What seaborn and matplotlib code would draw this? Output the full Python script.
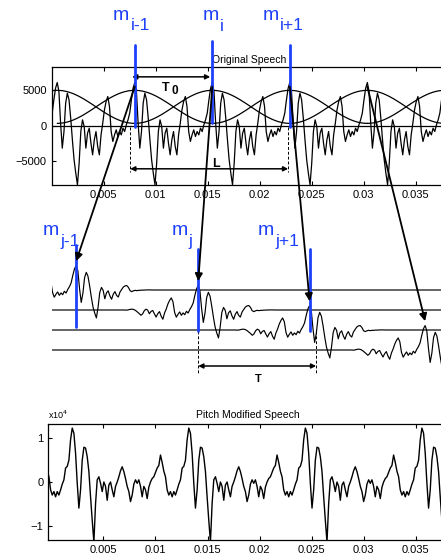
import numpy as np
import matplotlib
matplotlib.use('Agg')
import matplotlib.pyplot as plt
import seaborn as sns
from matplotlib.patches import ConnectionPatch

sns.set_style('ticks', {'axes.edgecolor': 'k', 'text.color': 'k',
                        'xtick.color': 'k', 'ytick.color': 'k'})
plt.rcParams['font.family'] = ['Liberation Sans', 'DejaVu Sans']

# ---- values ----
# one pitch period of the original speech, starting at a pitch mark
ORIG_PERIOD = [6100, 4830, 375, -3140, -800, 3190, 4600, 3660, 1080, -1970,
               -4780, -6660, -8300, -5250, -800, 845, -100, -3140, -1030, -330,
               -2440, -4080, -1970, -800, -2900, -4080, -1270, 375, 2250, 3420,
               4130, 2720, -800, -2200, -1270, -560, -1500, -800, -1270, -330,
               -800, 140, 845, 1780, 3660, 5300]
ORIG_FIRST_MARK = 0.00055
T0 = 0.00745
ORIG_DT = T0 / len(ORIG_PERIOD)

# one pitch period of the pitch modified speech (x1e4), starting at a peak
MOD_PERIOD = [1.24, 1.12, 0.66, -0.03, -0.60, -0.18, 0.50, 0.80, 0.78, 0.58,
              0.24, -0.34, -0.88, -1.38, -0.50, 0.05, 0.12, -0.03, -0.22, 0.00,
              -0.10, -0.42, -0.07, 0.00, -0.18, -0.34, -0.10, 0.00, 0.12, 0.26,
              0.35, 0.24, 0.08, -0.10, -0.22, -0.45, -0.30, -0.05, 0.05, -0.03,
              0.05, -0.10, -0.34, -0.10, -0.18, -0.38, -0.12, 0.00, 0.08, 0.12,
              0.22, 0.32, 0.38, 0.62, 0.45, 0.25, 0.12, -0.18, -0.30, -0.22,
              -0.34, -0.22, -0.30, -0.18, -0.05, 0.05, 0.32, 0.36, 0.50, 0.97]
MOD_FIRST_PEAK = 0.0020
T_NEW = 0.0112
MOD_DT = T_NEW / len(MOD_PERIOD)

# half of the analysis window (peak -> edge), one value per sample
HANN_HALF = [1.000, 0.999, 0.995, 0.990, 0.982, 0.971, 0.959, 0.944, 0.927, 0.909,
             0.888, 0.865, 0.841, 0.816, 0.788, 0.760, 0.730, 0.699, 0.667, 0.635,
             0.602, 0.568, 0.534, 0.500, 0.466, 0.432, 0.398, 0.365, 0.333, 0.301,
             0.270, 0.240, 0.212, 0.185, 0.159, 0.135, 0.112, 0.092, 0.073, 0.056,
             0.041, 0.029, 0.019, 0.011, 0.005, 0.001, 0.000]
WIN_LOW, WIN_HIGH = 350, 5000

# new pitch marks of the overlap-added segments and their drawing baselines
MID_MARKS = [0.00237, 0.0141, 0.0248, 0.0359]
MID_BASELINES = [0, -5000, -10000, -15000]

TOP_LABELS = ['i-1', 'i', 'i+1']
MID_LABELS = ['j-1', 'j', 'j+1']
XTICKS = [0.005, 0.01, 0.015, 0.02, 0.025, 0.03, 0.035]
XTICKLABELS = ['0.005', '0.01', '0.015', '0.02', '0.025', '0.03', '0.035']

BLUE = '#1d40fb'
W, H = 441, 556
PX_PER_S = 10407


def box(l, t, r, b):
    return [l / W, 1 - b / H, (r - l) / W, (b - t) / H]


def fpos(x, y):
    return x / W, 1 - y / H


fig = plt.figure(figsize=(W / 100, H / 100), dpi=100)
ax_top = fig.add_axes(box(51.5, 66.7, 51.5 + 0.038 * PX_PER_S, 185))
ax_mid = fig.add_axes(box(51.5, 240, 51.5 + 0.038 * PX_PER_S, 380))
ax_bot = fig.add_axes(box(48.3, 424, 48.3 + 0.0383 * PX_PER_S, 540))

# ---- original speech ----
n_per = len(ORIG_PERIOD)
n = np.arange(-4, 245)
top_t = ORIG_FIRST_MARK + n * ORIG_DT
top_v = np.array(ORIG_PERIOD)[n % n_per]
sns.lineplot(x=top_t, y=top_v, ax=ax_top, color='k', lw=0.9,
             estimator=None, sort=False)
ax_top.axhline(0, color='k', lw=0.9)

orig_marks = ORIG_FIRST_MARK + np.arange(6) * T0
win = np.array(HANN_HALF)
full_win = np.concatenate([win[::-1], win[1:]])
k_idx = np.arange(-(len(win) - 1), len(win))
for m in orig_marks:
    ax_top.plot(m + k_idx * ORIG_DT, WIN_LOW + (WIN_HIGH - WIN_LOW) * full_win,
                color='k', lw=0.9)

ax_top.set_xlim(0, 0.038)
ax_top.set_ylim(-8330, 8330)
ax_top.set_xticks(XTICKS, XTICKLABELS)
ax_top.set_yticks([-5000, 0, 5000], ['\u22125000', '0', '5000'])
ax_top.set_title('Original Speech', fontsize=7.5, pad=2.5)

# blue pitch marks on the original
for m, top, bot in zip(orig_marks[1:4], [11400, 11970, 11400], [-140, 420, -140]):
    ax_top.plot([m, m], [bot, top], color=BLUE, lw=2, clip_on=False, zorder=5)

# T0 and L spans
ax_top.annotate('', xy=(0.00775, 6900), xytext=(0.01525, 6900),
                arrowprops=dict(arrowstyle='<|-|>', color='k', lw=1.1,
                                mutation_scale=7, shrinkA=0, shrinkB=0),
                annotation_clip=False)
for x in (0.00756, 0.02274):
    ax_top.plot([x, x], [-140, -6480], color='k', lw=0.7, ls=(0, (3, 2)),
                clip_on=False)
ax_top.annotate('', xy=(0.00756, -6050), xytext=(0.02274, -6050),
                arrowprops=dict(arrowstyle='<|-|>', color='k', lw=1.1,
                                mutation_scale=7, shrinkA=0, shrinkB=0),
                annotation_clip=False)
fig.text(*fpos(162, 91), 'T', fontsize=9, fontweight='bold', va='baseline')
fig.text(*fpos(171, 94), '0', fontsize=8.5, fontweight='bold', va='baseline')
fig.text(*fpos(212, 167), 'L', fontsize=9, fontweight='bold', va='baseline')

# ---- windowed segments placed at the new pitch marks ----
seg_v = np.array(ORIG_PERIOD)[k_idx % n_per] * full_win
for m_new, base in zip(MID_MARKS, MID_BASELINES):
    t_row = np.concatenate([[-0.01], m_new + k_idx * ORIG_DT, [0.05]])
    v_row = np.concatenate([[0], seg_v, [0]]) + base
    sns.lineplot(x=t_row, y=v_row, ax=ax_mid, color='k', lw=0.85,
                 estimator=None, sort=False)
ax_mid.set_xlim(0, 0.038)
ax_mid.set_ylim(-22500, 12500)
ax_mid.axis('off')

for m, top, bot in zip(MID_MARKS[:3], [11250, 10250, 10250], [-9250, -10250, -10250]):
    ax_mid.plot([m, m], [bot, top], color=BLUE, lw=2, clip_on=False, zorder=5)

for x in (0.0141, 0.02543):
    ax_mid.plot([x, x], [-10250, -20750], color='k', lw=0.7, ls=(0, (3, 2)))
ax_mid.annotate('', xy=(0.0141, -19000), xytext=(0.02543, -19000),
                arrowprops=dict(arrowstyle='<|-|>', color='k', lw=1.1,
                                mutation_scale=7, shrinkA=0, shrinkB=0))
fig.text(*fpos(255, 382), 'T', fontsize=8, fontweight='bold', va='baseline')

# arrows from analysis marks to synthesis marks
for m_old, m_new, base in zip(orig_marks[1:5], MID_MARKS, MID_BASELINES):
    con = ConnectionPatch(xyA=(m_old, 5500), coordsA=ax_top.transData,
                          xyB=(m_new, base + 7200), coordsB=ax_mid.transData,
                          arrowstyle='-|>', mutation_scale=11, color='k', lw=1.3,
                          shrinkA=0, shrinkB=0, zorder=6)
    fig.add_artist(con)

# blue labels
for (mx, my), sub, (sx, sy) in zip([(113, 20), (203, 20), (263, 20)], TOP_LABELS,
                                   [(131, 30), (220, 31), (280, 30)]):
    fig.text(*fpos(mx, my), 'm', color=BLUE, fontsize=14, va='baseline')
    fig.text(*fpos(sx, sy), sub, color=BLUE, fontsize=12.5, va='baseline')
for (mx, my), sub, (sx, sy) in zip([(43, 235), (172, 235), (258, 235)], MID_LABELS,
                                   [(60, 246), (188, 246), (275, 246)]):
    fig.text(*fpos(mx, my), 'm', color=BLUE, fontsize=14, va='baseline')
    fig.text(*fpos(sx, sy), sub, color=BLUE, fontsize=12.5, va='baseline')

# ---- pitch modified speech ----
nm = np.arange(-16, 240)
bot_t = MOD_FIRST_PEAK + nm * MOD_DT
bot_v = np.array(MOD_PERIOD)[nm % len(MOD_PERIOD)]
sns.lineplot(x=bot_t, y=bot_v, ax=ax_bot, color='k', lw=1.0,
             estimator=None, sort=False)
ax_bot.set_xlim(-0.0003, 0.038)
ax_bot.set_ylim(-1.333, 1.333)
ax_bot.set_xticks(XTICKS, XTICKLABELS)
ax_bot.set_yticks([-1, 0, 1], ['\u22121', '0', '1'])
ax_bot.set_title('Pitch Modified Speech', fontsize=7.5, pad=4)
fig.text(*fpos(48, 419), 'x10$^4$', fontsize=6.5, va='baseline')

for ax in (ax_top, ax_bot):
    ax.tick_params(direction='in', length=3, width=0.8, top=True, right=True,
                   labelsize=8, pad=3.5)
    for s in ax.spines.values():
        s.set_linewidth(0.9)
    ax.set_xlabel('')
    ax.set_ylabel('')

fig.savefig('out.png', dpi=100)
